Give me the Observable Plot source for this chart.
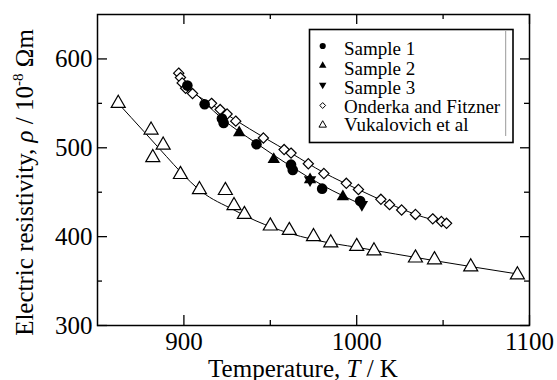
<!DOCTYPE html>
<html><head><meta charset="utf-8">
<script src="https://cdn.jsdelivr.net/npm/d3@7"></script>
<script src="https://cdn.jsdelivr.net/npm/@observablehq/plot@0.6"></script>
<style>
body{margin:0;background:#fff;}
#wrap{width:557px;height:380px;}
</style></head><body><div id="wrap"></div>
<script>
// ---- data ----
const sample1T = [902, 912, 922, 923, 942, 962, 963, 980, 1002];
const sample1R = [570, 549, 533, 528, 504, 481, 475, 454, 440];
const sample2T = [932, 952, 973, 992];
const sample2R = [517, 487, 464, 445];
const sample3T = [973, 1003];
const sample3R = [464, 436];
const onderkaT = [897, 898, 899, 901, 905, 916, 921, 925, 930, 946, 958, 962, 972, 981, 994, 1001, 1014, 1019, 1026, 1034, 1044, 1049, 1052];
const onderkaR = [584, 579, 573, 567, 561, 550, 543, 538, 530, 511, 498, 494, 482, 471, 460, 453, 442, 436, 430, 425, 420, 417, 415];
const vukT = [862, 881, 888, 882, 898, 909, 924, 929, 935, 950, 961, 975, 985, 1000, 1010, 1034, 1045, 1066, 1093];
const vukR = [550, 520, 503, 489, 470, 453, 452, 435, 425, 412, 407, 400, 393, 389, 384, 376, 374, 366, 357];
// fitted curves
const fitSampleT = [900, 912, 922, 942, 962, 980, 1003];
const fitSampleR = [574, 551, 533, 505, 479, 458, 436];
const fitOnderkaT = [897, 905, 916, 930, 946, 962, 981, 1001, 1019, 1034, 1052];
const fitOnderkaR = [580, 563, 549, 531, 512, 494, 472, 453, 437, 425, 415];
const fitVukT = [862, 877, 890, 898, 910, 929, 937, 956, 979, 1000, 1045, 1093];
const fitVukR = [550, 518, 490, 473, 451, 430, 422, 407, 395, 388, 373, 358];
const xMajor = [900, 1000, 1100];
const xMinor = [950, 1050];
const yMajor = [300, 400, 500, 600];
const yMinor = [350, 450, 550];
const legendLabels = ["Sample 1", "Sample 2", "Sample 3", "Onderka and Fitzner", "Vukalovich et al"];

const zip = (xs, ys) => xs.map((x, i) => ({x, y: ys[i]}));
const sqrt3 = Math.sqrt(3);
const triangleDown = {
  draw(context, size) {
    const y = -Math.sqrt(size / (sqrt3 * 3));
    context.moveTo(0, -y * 2);
    context.lineTo(-sqrt3 * y, y);
    context.lineTo(sqrt3 * y, y);
    context.closePath();
  }
};
const FONT = "'Liberation Serif','Times New Roman',serif";

const W = 557, H = 380, ML = 97, MR = 28, MT = 14, MB = 55;
const FW = W - ML - MR, FH = H - MT - MB;
const tickStyle = {stroke: "black", strokeWidth: 1.3};

const chart = Plot.plot({
  width: W, height: H,
  marginLeft: ML, marginRight: MR, marginTop: MT, marginBottom: MB,
  style: {fontFamily: FONT, background: "white"},
  x: {domain: [850, 1100], axis: null},
  y: {domain: [300, 650], axis: null},
  marks: [
    Plot.line(zip(fitVukT, fitVukR), {x: "x", y: "y", curve: "monotone-x", stroke: "black", strokeWidth: 1}),
    Plot.line(zip(fitOnderkaT, fitOnderkaR), {x: "x", y: "y", curve: "monotone-x", stroke: "black", strokeWidth: 1}),
    Plot.line(zip(fitSampleT, fitSampleR), {x: "x", y: "y", curve: "monotone-x", stroke: "black", strokeWidth: 1}),
    Plot.dot(zip(vukT, vukR), {x: "x", y: "y", symbol: "triangle", r: 5.2, fill: "white", stroke: "black", strokeWidth: 1.2}),
    Plot.dot(zip(onderkaT, onderkaR), {x: "x", y: "y", symbol: "diamond2", r: 4.6, fill: "white", stroke: "black", strokeWidth: 1.2}),
    Plot.dot(zip(sample1T, sample1R), {x: "x", y: "y", symbol: "circle", r: 5.3, fill: "black"}),
    Plot.dot(zip(sample2T, sample2R), {x: "x", y: "y", symbol: "triangle", r: 4.6, fill: "black"}),
    Plot.dot(zip(sample3T, sample3R), {x: "x", y: "y", symbol: triangleDown, r: 4.6, fill: "black"}),
    Plot.frame({stroke: "black", strokeWidth: 1.5}),
    // inward ticks (bottom, top, left, right)
    Plot.tickX(xMajor, {x: d => d, insetTop: FH - 10, ...tickStyle}),
    Plot.tickX(xMinor, {x: d => d, insetTop: FH - 5, ...tickStyle}),
    Plot.tickX(xMajor, {x: d => d, insetBottom: FH - 10, ...tickStyle}),
    Plot.tickX(xMinor, {x: d => d, insetBottom: FH - 5, ...tickStyle}),
    Plot.tickY(yMajor, {y: d => d, insetRight: FW - 10, ...tickStyle}),
    Plot.tickY(yMinor, {y: d => d, insetRight: FW - 5, ...tickStyle}),
    Plot.tickY(yMajor, {y: d => d, insetLeft: FW - 9, ...tickStyle}),
    Plot.tickY(yMinor, {y: d => d, insetLeft: FW - 5, ...tickStyle}),
    // tick labels
    Plot.axisX(xMajor, {anchor: "bottom", tickSize: 0, tickPadding: 7, fontSize: 25, label: null, fill: "black", tickFormat: d => String(d)}),
    Plot.axisY(yMajor, {anchor: "left", tickSize: 0, tickPadding: 5, fontSize: 25, label: null, fill: "black", tickFormat: d => String(d)})
  ]
});

document.getElementById("wrap").appendChild(chart);
const svg = d3.select(chart);

// axis titles
const xt = svg.append("text").attr("x", 303).attr("y", 377).attr("text-anchor", "middle")
  .attr("font-family", FONT).attr("font-size", 25).attr("fill", "black");
xt.append("tspan").text("Temperature, ");
xt.append("tspan").attr("font-style", "italic").text("T");
xt.append("tspan").text(" / K");

const yt = svg.append("text").attr("transform", "translate(33,182.5) rotate(-90)").attr("text-anchor", "middle")
  .attr("font-family", FONT).attr("font-size", 25).attr("fill", "black");
yt.append("tspan").text("Electric resistivity, ");
yt.append("tspan").attr("font-style", "italic").text("ρ");
yt.append("tspan").text(" / 10");
yt.append("tspan").attr("font-size", 15).attr("dy", -10).text("-8");
yt.append("tspan").attr("dy", 10).text(" Ωm");

// legend
const lg = svg.append("g");
lg.append("rect").attr("x", 309.5).attr("y", 29.5).attr("width", 203.5).attr("height", 113)
  .attr("fill", "white").attr("stroke", "black").attr("stroke-width", 1.6);
lg.append("line").attr("x1", 505.7).attr("x2", 505.7).attr("y1", 31).attr("y2", 136)
  .attr("stroke", "#999").attr("stroke-width", 1);
const symY = [46, 65.5, 85, 105.5, 125];
const baseY = [55, 74.5, 93.5, 112.5, 131];
const legSyms = [
  {type: d3.symbolCircle, size: 30, fill: "black", stroke: "none"},
  {type: d3.symbolTriangle, size: 24, fill: "black", stroke: "none"},
  {type: triangleDown, size: 24, fill: "black", stroke: "none"},
  {type: d3.symbolDiamond2, size: 22, fill: "white", stroke: "black"},
  {type: d3.symbolTriangle, size: 24, fill: "white", stroke: "black"}
];
legendLabels.forEach((lab, i) => {
  const s = legSyms[i];
  lg.append("path").attr("d", d3.symbol(s.type, s.size)())
    .attr("transform", `translate(322.7,${symY[i]})`)
    .attr("fill", s.fill).attr("stroke", s.stroke).attr("stroke-width", 1);
  lg.append("text").attr("x", 344).attr("y", baseY[i]).attr("text-anchor", "start")
    .attr("font-family", FONT).attr("font-size", 19).attr("fill", "black").text(lab);
});
</script>
</body></html>
